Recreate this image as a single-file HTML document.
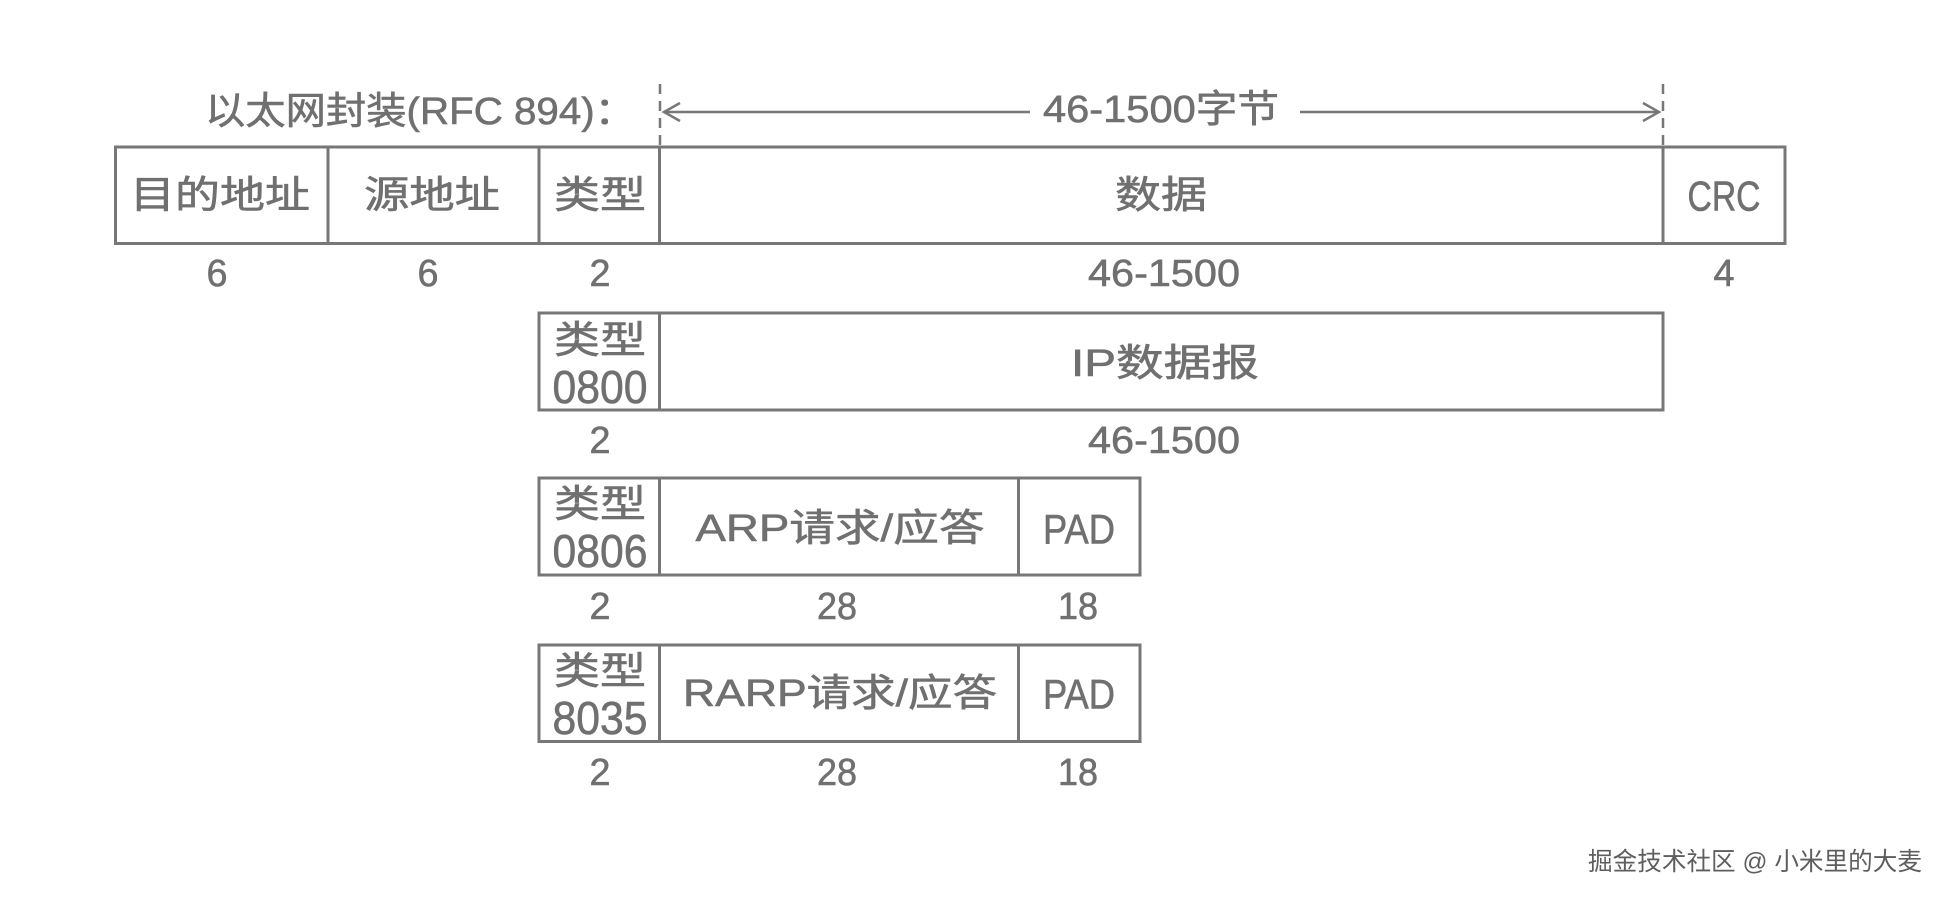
<!DOCTYPE html>
<html><head><meta charset="utf-8"><style>
html,body{margin:0;padding:0;background:#fff;}
svg{display:block;}
text{font-family:"Liberation Sans","Noto Sans CJK SC",sans-serif;fill:#707070;stroke:#707070;stroke-width:0.6;dominant-baseline:central;text-anchor:middle;}
.c{font-size:38px;}
.n{font-size:38px;}
.b{font-size:42px;}
</style></head><body>
<svg width="1948" height="901" viewBox="0 0 1948 901" xmlns="http://www.w3.org/2000/svg">
<g fill="none" stroke="#777" stroke-width="3">
<rect x="115.5" y="147" width="1669.5" height="96.5"/>
<line x1="328" y1="147" x2="328" y2="243.5"/>
<line x1="539" y1="147" x2="539" y2="243.5"/>
<line x1="659.5" y1="147" x2="659.5" y2="243.5"/>
<line x1="1663" y1="147" x2="1663" y2="243.5"/>
<rect x="539" y="313" width="1124" height="97"/>
<line x1="659.5" y1="313" x2="659.5" y2="410"/>
<rect x="539" y="478" width="601" height="97"/>
<line x1="659.5" y1="478" x2="659.5" y2="575"/>
<line x1="1018.5" y1="478" x2="1018.5" y2="575"/>
<rect x="539" y="645" width="601" height="96.5"/>
<line x1="659.5" y1="645" x2="659.5" y2="741.5"/>
<line x1="1018.5" y1="645" x2="1018.5" y2="741.5"/>
</g>
<g stroke="#777" stroke-width="2.5" fill="none">
<line x1="660" y1="84" x2="660" y2="147" stroke-dasharray="10,7"/>
<line x1="1663" y1="84" x2="1663" y2="147" stroke-dasharray="10,7"/>
<line x1="664" y1="112" x2="1030" y2="112"/>
<line x1="1300" y1="112" x2="1659" y2="112"/>
<polyline points="680,103 664,112 680,121"/>
<polyline points="1643,103 1659,112 1643,121"/>
</g>
<text x="420" y="112" class="c" textLength="430" lengthAdjust="spacingAndGlyphs">以太网封装(RFC 894)：</text>
<text x="1161" y="110" class="n" textLength="236" lengthAdjust="spacingAndGlyphs">46-1500字节</text>
<text x="220" y="196" class="c" textLength="180" lengthAdjust="spacingAndGlyphs">目的地址</text>
<text x="432" y="196" class="c" textLength="136" lengthAdjust="spacingAndGlyphs">源地址</text>
<text x="600" y="196" class="c" textLength="92" lengthAdjust="spacingAndGlyphs">类型</text>
<text x="1161" y="196" class="c" textLength="92" lengthAdjust="spacingAndGlyphs">数据</text>
<text x="1724" y="196" class="b" textLength="73" lengthAdjust="spacingAndGlyphs">CRC</text>
<text x="217" y="274" class="n" textLength="21" lengthAdjust="spacingAndGlyphs">6</text>
<text x="428" y="274" class="n" textLength="21" lengthAdjust="spacingAndGlyphs">6</text>
<text x="600" y="274" class="n" textLength="21" lengthAdjust="spacingAndGlyphs">2</text>
<text x="1164" y="274" class="n" textLength="152" lengthAdjust="spacingAndGlyphs">46-1500</text>
<text x="1724" y="274" class="n" textLength="21" lengthAdjust="spacingAndGlyphs">4</text>
<text x="600" y="341" class="c" textLength="92" lengthAdjust="spacingAndGlyphs">类型</text>
<text x="600" y="387" class="n" style="font-size:46px" textLength="95" lengthAdjust="spacingAndGlyphs">0800</text>
<text x="1165" y="364" class="c" textLength="188" lengthAdjust="spacingAndGlyphs">IP数据报</text>
<text x="600" y="441" class="n" textLength="21" lengthAdjust="spacingAndGlyphs">2</text>
<text x="1164" y="441" class="n" textLength="152" lengthAdjust="spacingAndGlyphs">46-1500</text>
<text x="600" y="505" class="c" textLength="92" lengthAdjust="spacingAndGlyphs">类型</text>
<text x="600" y="551" class="n" style="font-size:46px" textLength="95" lengthAdjust="spacingAndGlyphs">0806</text>
<text x="840" y="529" class="c" textLength="289" lengthAdjust="spacingAndGlyphs">ARP请求/应答</text>
<text x="1079" y="529" class="b" textLength="72" lengthAdjust="spacingAndGlyphs">PAD</text>
<text x="600" y="607" class="n" textLength="21" lengthAdjust="spacingAndGlyphs">2</text>
<text x="837" y="607" class="n" textLength="40" lengthAdjust="spacingAndGlyphs">28</text>
<text x="1078" y="607" class="n" textLength="40" lengthAdjust="spacingAndGlyphs">18</text>
<text x="600" y="672" class="c" textLength="92" lengthAdjust="spacingAndGlyphs">类型</text>
<text x="600" y="718" class="n" style="font-size:46px" textLength="95" lengthAdjust="spacingAndGlyphs">8035</text>
<text x="840" y="694" class="c" textLength="314" lengthAdjust="spacingAndGlyphs">RARP请求/应答</text>
<text x="1079" y="694" class="b" textLength="72" lengthAdjust="spacingAndGlyphs">PAD</text>
<text x="600" y="773" class="n" textLength="21" lengthAdjust="spacingAndGlyphs">2</text>
<text x="837" y="773" class="n" textLength="40" lengthAdjust="spacingAndGlyphs">28</text>
<text x="1078" y="773" class="n" textLength="40" lengthAdjust="spacingAndGlyphs">18</text>
<text x="1755" y="862" style="font-size:25px;fill:#5e5e5e;stroke:none" textLength="334" lengthAdjust="spacingAndGlyphs">掘金技术社区 @ 小米里的大麦</text>
</svg>
</body></html>
